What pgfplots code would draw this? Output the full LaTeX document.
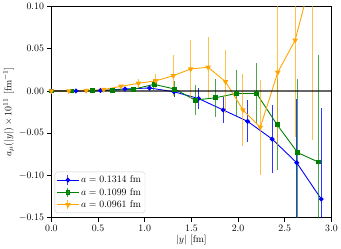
\documentclass[border=0pt]{standalone}
\usepackage{pgfplots}
\pgfplotsset{compat=1.18}
\usepackage{pgfplotstable}
\definecolor{mblue}{RGB}{0,0,255}
\definecolor{mgreen}{RGB}{0,128,0}
\definecolor{morange}{RGB}{255,165,0}

\pgfplotstableread{
x y e
0.000 0.0000 0.0000
0.263 0.0000 0.0005
0.526 0.0005 0.0010
0.788 0.0023 0.0015
1.051 0.0035 0.0030
1.314 -0.0010 0.0060
1.577 -0.0090 0.0120
1.840 -0.0225 0.0150
2.102 -0.0360 0.0250
2.365 -0.0570 0.0400
2.628 -0.0850 0.0750
2.891 -0.1280 0.1080
}\datablue

\pgfplotstableread{
x y e
0.000 0.0000 0.0000
0.220 0.0000 0.0005
0.440 0.0005 0.0010
0.659 0.0010 0.0015
0.879 0.0020 0.0020
1.099 0.0078 0.0065
1.319 0.0023 0.0090
1.539 -0.0108 0.0180
1.758 -0.0081 0.0225
1.978 -0.0030 0.0280
2.198 -0.0030 0.0360
2.418 -0.0400 0.0540
2.638 -0.0730 0.0870
2.857 -0.0840 0.1260
}\datagreen

\pgfplotstableread{
x y e
0.000 0.0000 0.0000
0.187 0.0000 0.0005
0.373 0.0005 0.0010
0.560 0.0016 0.0015
0.746 0.0055 0.0020
0.933 0.0090 0.0050
1.119 0.0120 0.0080
1.306 0.0180 0.0240
1.492 0.0260 0.0340
1.679 0.0280 0.0360
1.865 0.0110 0.0370
2.052 -0.0225 0.0430
2.238 -0.0430 0.0560
2.425 0.0220 0.0860
2.611 0.0600 0.1150
2.798 0.1390 0.1970
}\dataorange

\begin{document}
\begin{tikzpicture}
\begin{axis}[
  scale only axis,
  width=285pt, height=215pt,
  xmin=0, xmax=3, ymin=-0.15, ymax=0.10,
  xtick={0,0.5,1,1.5,2,2.5,3},
  ytick={-0.15,-0.10,-0.05,0,0.05,0.10},
  xticklabel style={/pgf/number format/.cd, fixed, fixed zerofill, precision=1},
  yticklabel style={/pgf/number format/.cd, fixed, fixed zerofill, precision=2},
  scaled y ticks=false, scaled x ticks=false,
  tick align=outside, tick pos=left,
  major tick length=4pt,
  every tick/.style={black, line width=0.8pt},
  axis line style={line width=1.1pt},
  xlabel={$|y|$ [fm]},
  ylabel={$a_\mu(|y|)\times 10^{11}$ [fm$^{-1}$]},
  xlabel style={yshift=3pt},
  ylabel style={yshift=-2pt},
  legend style={at={(0.012,0.022)}, anchor=south west, draw=black!20, rounded corners=2pt,
    fill=white, fill opacity=0.8, text opacity=1, row sep=0pt, inner sep=2pt},
  legend cell align=left,
  legend image code/.code={
    \draw[line width=1pt, opacity=0.75] (0.38cm,-0.17cm) -- (0.38cm,0.17cm);
    \draw[mark repeat=2, mark phase=2] plot coordinates {(0cm,0cm) (0.38cm,0cm) (0.76cm,0cm)};
  },
]
\addplot[mblue, line width=0.9pt, mark=*, mark size=2pt, mark options={solid},
  error bars/.cd, y dir=both, y explicit, error mark=none,
  error bar style={line width=1pt, opacity=0.8}]
  table[x=x, y=y, y error=e] {\datablue};
\addlegendentry{$a = 0.1314$ fm}
\addplot[mgreen, line width=0.9pt, mark=square*, mark size=2pt, mark options={solid},
  error bars/.cd, y dir=both, y explicit, error mark=none,
  error bar style={line width=1pt, opacity=0.7}]
  table[x=x, y=y, y error=e] {\datagreen};
\addlegendentry{$a = 0.1099$ fm}
\addplot[morange, line width=0.9pt, mark=triangle*, mark size=2.4pt, mark options={solid, rotate=180},
  error bars/.cd, y dir=both, y explicit, error mark=none,
  error bar style={line width=1pt, opacity=0.7}]
  table[x=x, y=y, y error=e] {\dataorange};
\addlegendentry{$a = 0.0961$ fm}
\addplot[black, opacity=0.6, line width=1.3pt, forget plot] coordinates {(0,0) (3,0)};
\end{axis}
\end{tikzpicture}
\end{document}
